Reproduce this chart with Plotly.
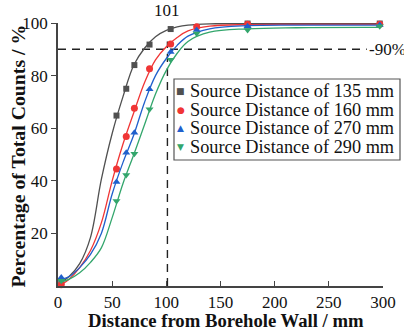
import plotly.graph_objects as go

# ---- data ----
series_names = ["Source Distance of 135 mm", "Source Distance of 160 mm",
                "Source Distance of 270 mm", "Source Distance of 290 mm"]
point_x = [3, 54, 63, 70.5, 84.5, 104, 128, 175, 297]
pts_135 = [1.5, 64.8, 75.0, 84.0, 91.8, 97.7, 100.2, 99.8, 99.8]
pts_160 = [0.5, 44.5, 56.8, 67.6, 82.6, 92.0, 98.6, 99.5, 99.5]
pts_270 = [3.2, 39.5, 50.7, 58.3, 74.8, 89.0, 97.3, 98.8, 99.2]
pts_290 = [2.0, 32.3, 42.2, 50.3, 67.2, 86.0, 96.0, 97.3, 98.8]

curve_x = [3, 10, 20, 30, 40, 50, 60, 70, 80, 90, 100, 110, 120, 140, 175, 220, 297]
fit_135 = [1.5, 3.5, 8.5, 18.5, 40.5, 58, 72, 84, 90.5, 94.8, 97.2, 98.5, 99.2, 99.7, 99.8, 99.8, 99.8]
fit_160 = [0.5, 2.5, 7, 13.5, 24, 40, 54, 66, 77.5, 86, 91, 94.5, 97, 98.8, 99.4, 99.5, 99.5]
fit_270 = [2.5, 3.5, 7, 12, 20, 35, 47, 57.5, 70, 80, 86.5, 91.5, 95, 97.8, 99.0, 99.2, 99.2]
fit_290 = [1.5, 2.5, 5, 9, 14.5, 26, 39, 50, 61.5, 73, 82, 88.5, 93, 96.5, 97.8, 98.2, 98.3]

x_ticks = [0, 50, 100, 150, 200, 250, 300]
y_ticks = [20, 40, 60, 80, 100]
threshold = 90
threshold_x = 101
x_title = "Distance from Borehole Wall / mm"
y_title = "Percentage of Total Counts / %"

colors = ["#505050", "#f03535", "#2060cc", "#33a66c"]
symbols = ["square", "circle", "triangle-up", "triangle-down"]
glyphs = ["\u25A0", "\u25CF", "\u25B2", "\u25BC"]
marker_sizes = [6, 7, 7, 7]

all_pts = [pts_135, pts_160, pts_270, pts_290]
all_fit = [fit_135, fit_160, fit_270, fit_290]

SERIF = "Liberation Serif"

fig = go.Figure()

# reference dashed lines
fig.add_trace(go.Scatter(x=[0, 285], y=[threshold, threshold], mode="lines",
                         line=dict(color="#222", width=1.4, dash="8px,6px"),
                         showlegend=False, hoverinfo="skip"))
fig.add_trace(go.Scatter(x=[threshold_x, threshold_x], y=[0, 93], mode="lines",
                         line=dict(color="#222", width=1.4, dash="8px,6px"),
                         showlegend=False, hoverinfo="skip"))

for name, c, pts, fit, sym, ms in zip(series_names, colors, all_pts, all_fit, symbols, marker_sizes):
    fig.add_trace(go.Scatter(x=curve_x, y=fit, mode="lines", line=dict(color=c, width=1.3, shape="spline", smoothing=1.0),
                             showlegend=False, hoverinfo="skip"))
    fig.add_trace(go.Scatter(x=point_x, y=pts, mode="markers", name=name,
                             marker=dict(symbol=sym, size=ms, color=c), cliponaxis=False,
                             showlegend=False))

# manual legend (box + text)
L, W, T, H = 58, 325, 23, 263
def px(x): return (x - L) / W
def py(y): return (286 - y) / H

fig.add_shape(type="rect", xref="paper", yref="paper",
              x0=px(174), x1=px(400), y0=py(160), y1=py(79),
              line=dict(color="#555", width=1.2), fillcolor="white")
row_y = [91, 109.5, 128, 146.5]
for name, c, g, ry in zip(series_names, colors, glyphs, row_y):
    fig.add_annotation(xref="paper", yref="paper", x=px(180.5), y=py(ry), text=g,
                       showarrow=False, xanchor="center", yanchor="middle",
                       font=dict(family="DejaVu Sans", size=9, color=c))
    fig.add_annotation(xref="paper", yref="paper", x=px(188), y=py(ry), text=name,
                       showarrow=False, xanchor="left", yanchor="middle",
                       font=dict(family=SERIF, size=18.3, color="#111"))

fig.add_annotation(x=threshold_x, y=100, yref="y", xref="x", text="101", showarrow=False,
                   yshift=13, font=dict(family=SERIF, size=17, color="#111"))
fig.add_annotation(x=285, y=threshold, text="-90%", showarrow=False, xanchor="left",
                   yanchor="middle", font=dict(family=SERIF, size=17, color="#111"))

# axis titles
fig.add_annotation(xref="paper", yref="paper", x=px(226), y=py(320), text="<b>" + x_title + "</b>",
                   showarrow=False, xanchor="center", yanchor="middle",
                   font=dict(family=SERIF, size=18.7, color="#111"))
fig.add_annotation(xref="paper", yref="paper", x=px(17.5), y=py(156), text="<b>" + y_title + "</b>",
                   showarrow=False, xanchor="center", yanchor="middle", textangle=-90,
                   font=dict(family=SERIF, size=19.8, color="#111"))

fig.update_layout(
    width=404, height=333,
    margin=dict(l=58, r=21, t=23, b=47, autoexpand=False),
    paper_bgcolor="white", plot_bgcolor="white",
    font=dict(family=SERIF, color="#111"),
    showlegend=False,
    xaxis=dict(range=[0, 300], tickvals=x_ticks, ticks="inside", ticklen=5, tickwidth=1,
               tickcolor="#444", showline=True, linecolor="#444", linewidth=1.5, automargin=False,
               showgrid=False, zeroline=False, tickfont=dict(size=17, family=SERIF)),
    yaxis=dict(range=[0, 100], tickvals=y_ticks, ticks="outside", ticklen=5, tickwidth=1,
               tickcolor="#444", showline=True, linecolor="#444", linewidth=1.5, automargin=False,
               showgrid=False, zeroline=False, tickfont=dict(size=17, family=SERIF)),
)

fig.write_html("out.html", config={"displayModeBar": False},
               post_script="document.body.style.margin='0';document.body.style.overflow='hidden';")
